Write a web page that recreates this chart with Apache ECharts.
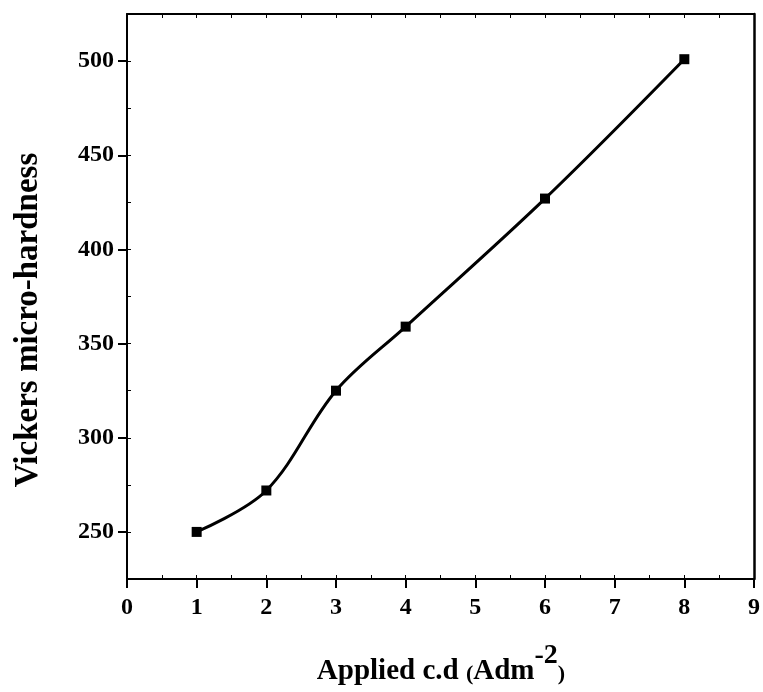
<!DOCTYPE html>
<html><head><meta charset="utf-8">
<script src="https://cdn.jsdelivr.net/npm/echarts@6/dist/echarts.min.js"></script>
<style>html,body{margin:0;padding:0;background:#fff}#c{width:763px;height:692px}</style>
</head><body><div id="c"></div>
<script>
const xValues = [1, 2, 3, 4, 6, 8];
const hardness = [250, 272, 325, 359, 427, 501];
const yTickLabels = [250, 300, 350, 400, 450, 500];
const xTickLabels = [0, 1, 2, 3, 4, 5, 6, 7, 8, 9];

const FONT = '"Liberation Serif", "Times New Roman", serif';
const chart = echarts.init(document.getElementById('c'));
const data = xValues.map((x, i) => [x, hardness[i]]);

chart.setOption({
  animation: false,
  backgroundColor: '#fff',
  grid: {left: 127, right: 6, top: 14, bottom: 113},
  xAxis: [{
    type: 'value', min: 0, max: 9, interval: 1, position: 'bottom',
    axisLine: {show: true, onZero: false, lineStyle: {color: '#000', width: 2}},
    axisTick: {show: true, inside: false, length: 9, lineStyle: {color: '#000', width: 2}},
    axisLabel: {show: true, margin: 17, color: '#000', fontFamily: FONT, fontWeight: 'bold', fontSize: 24,
      customValues: xTickLabels},
    splitLine: {show: false}
  }, {
    type: 'value', min: 0, max: 9, interval: 0.5, position: 'bottom',
    axisLine: {show: false, onZero: false},
    axisTick: {show: true, inside: true, length: 4, lineStyle: {color: '#000', width: 1}},
    axisLabel: {show: false}, splitLine: {show: false}
  }, {
    type: 'value', min: 0, max: 9, interval: 0.5, position: 'top',
    axisLine: {show: true, onZero: false, lineStyle: {color: '#000', width: 2}},
    axisTick: {show: true, inside: true, length: 4, lineStyle: {color: '#000', width: 1}},
    axisLabel: {show: false}, splitLine: {show: false}
  }],
  yAxis: [{
    type: 'value', min: 225, max: 525, interval: 25, position: 'left',
    axisLine: {show: true, onZero: false, lineStyle: {color: '#000', width: 2}},
    axisTick: {show: true, inside: false, length: 9, lineStyle: {color: '#000', width: 2},
      customValues: yTickLabels},
    axisLabel: {show: true, margin: 13, color: '#000', fontFamily: FONT, fontWeight: 'bold', fontSize: 24,
      customValues: yTickLabels},
    splitLine: {show: false}
  }, {
    type: 'value', min: 225, max: 525, interval: 25, position: 'left',
    axisLine: {show: false, onZero: false},
    axisTick: {show: true, inside: true, length: 4, lineStyle: {color: '#000', width: 1}},
    axisLabel: {show: false}, splitLine: {show: false}
  }, {
    type: 'value', min: 225, max: 525, interval: 25, position: 'right',
    axisLine: {show: true, onZero: false, lineStyle: {color: '#000', width: 2.5}},
    axisTick: {show: false}, axisLabel: {show: false}, splitLine: {show: false}
  }],
  series: [{
    type: 'line', xAxisIndex: 0, yAxisIndex: 0, data: data,
    smooth: 0.35,
    symbol: 'rect', symbolSize: 10,
    lineStyle: {color: '#000', width: 3},
    itemStyle: {color: '#000'}
  }],
  graphic: [{
    type: 'text', x: 28, y: 320, rotation: Math.PI / 2,
    style: {text: 'Vickers micro-hardness', fill: '#000', font: 'bold 33px ' + FONT,
      align: 'center', verticalAlign: 'middle'}
  }, {
    type: 'text', x: 441, y: 664,
    style: {
      text: '{a|Applied c.d }{p|(}{a|Adm}{s|-2}{p|)}',
      align: 'center', verticalAlign: 'middle',
      rich: {
        a: {fontFamily: FONT, fontWeight: 'bold', fontSize: 29, fill: '#000', verticalAlign: 'bottom'},
        p: {fontFamily: FONT, fontWeight: 'bold', fontSize: 22, fill: '#000', verticalAlign: 'bottom', padding: [0, 0, 1, 0]},
        s: {fontFamily: FONT, fontWeight: 'bold', fontSize: 28, fill: '#000', verticalAlign: 'bottom', padding: [0, 0, 17, 0]}
      }
    }
  }]
});
</script></body></html>
